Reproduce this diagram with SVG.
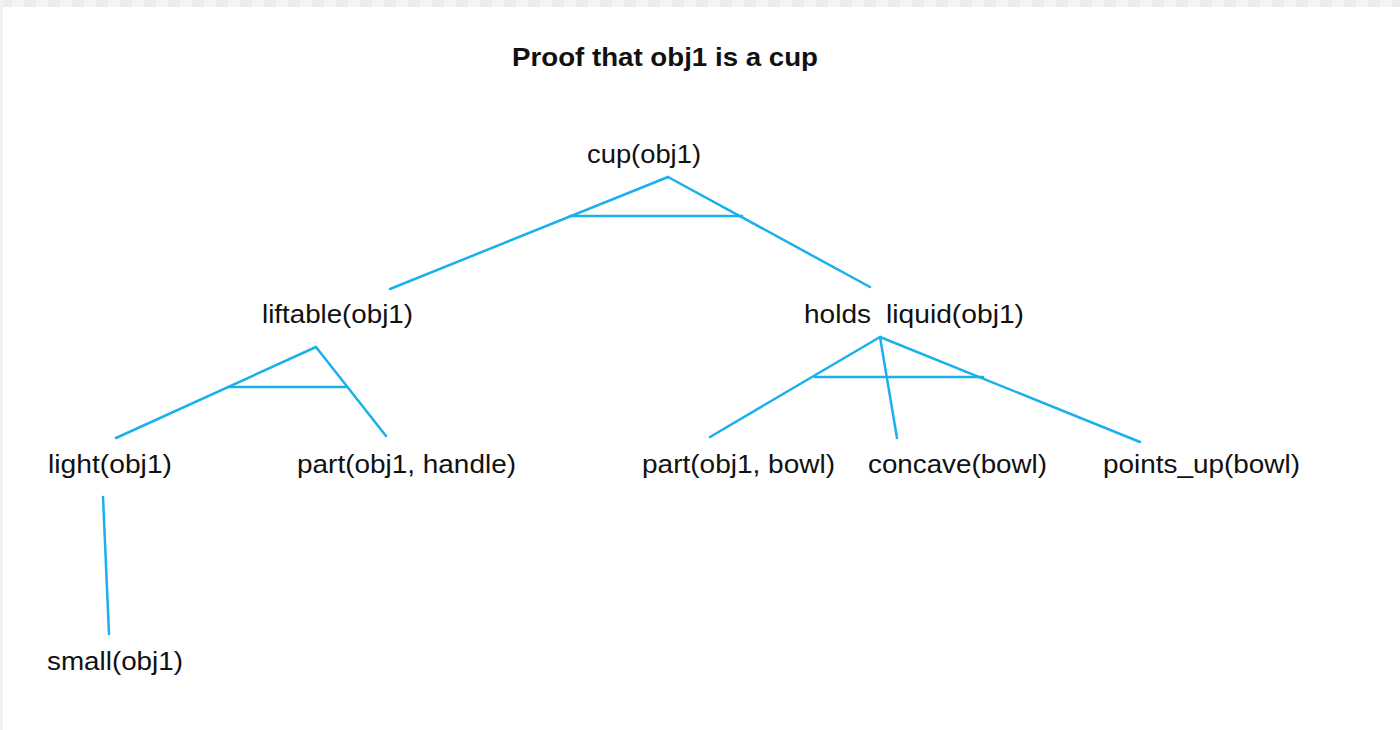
<svg xmlns="http://www.w3.org/2000/svg" width="1400" height="730" viewBox="0 0 1400 730">
<defs>
<pattern id="chk" x="0" y="0" width="24" height="7" patternUnits="userSpaceOnUse">
<rect x="0" y="0" width="12" height="7" fill="#ececec"/>
<rect x="12" y="0" width="12" height="7" fill="#f4f4f4"/>
</pattern>
</defs>
<style>
.t{font-family:"Liberation Sans",Arial,sans-serif;font-size:26px;fill:#111;}
.h{font-family:"Liberation Sans",Arial,sans-serif;font-size:26px;font-weight:bold;fill:#111;}
.e{stroke:#1ab0ec;stroke-width:2.5;fill:none;stroke-linecap:round;}
</style>
<rect width="1400" height="730" fill="#ffffff"/>
<rect x="0" y="0" width="1400" height="7" fill="url(#chk)"/>
<rect x="0" y="0" width="3" height="730" fill="#f1f1f1"/>
<text class="h" x="512" y="66" textLength="306" lengthAdjust="spacingAndGlyphs">Proof that obj1 is a cup</text>
<g id="connectors">
<line class="e" x1="668" y1="177" x2="390" y2="289"/>
<line class="e" x1="668" y1="177" x2="870" y2="287"/>
<line class="e" x1="570" y1="216" x2="742" y2="216"/>
<line class="e" x1="316" y1="347" x2="116" y2="438"/>
<line class="e" x1="316" y1="347" x2="386" y2="436"/>
<line class="e" x1="228" y1="387" x2="346" y2="387"/>
<line class="e" x1="880" y1="337" x2="710" y2="437"/>
<line class="e" x1="880" y1="337" x2="897" y2="438"/>
<line class="e" x1="880" y1="337" x2="1140" y2="442"/>
<line class="e" x1="815" y1="377" x2="983" y2="377"/>
<line class="e" x1="103" y1="497" x2="109" y2="634"/>
</g>
<g id="cup"><text class="t" x="587" y="163" textLength="114" lengthAdjust="spacingAndGlyphs">cup(obj1)</text></g>
<g id="liftable"><text class="t" x="262" y="323" textLength="151" lengthAdjust="spacingAndGlyphs">liftable(obj1)</text></g>
<g id="holds_liquid"><text class="t" x="804" y="323" textLength="67" lengthAdjust="spacingAndGlyphs">holds</text><text class="t" x="886" y="323" textLength="138" lengthAdjust="spacingAndGlyphs">liquid(obj1)</text></g>
<g id="light"><text class="t" x="48" y="473" textLength="124" lengthAdjust="spacingAndGlyphs">light(obj1)</text></g>
<g id="part_handle"><text class="t" x="297" y="473" textLength="219" lengthAdjust="spacingAndGlyphs">part(obj1, handle)</text></g>
<g id="part_bowl"><text class="t" x="642" y="473" textLength="193" lengthAdjust="spacingAndGlyphs">part(obj1, bowl)</text></g>
<g id="concave"><text class="t" x="868" y="473" textLength="179" lengthAdjust="spacingAndGlyphs">concave(bowl)</text></g>
<g id="points_up"><text class="t" x="1103" y="473" textLength="197" lengthAdjust="spacingAndGlyphs">points_up(bowl)</text></g>
<g id="small"><text class="t" x="47" y="670" textLength="136" lengthAdjust="spacingAndGlyphs">small(obj1)</text></g>
</svg>
